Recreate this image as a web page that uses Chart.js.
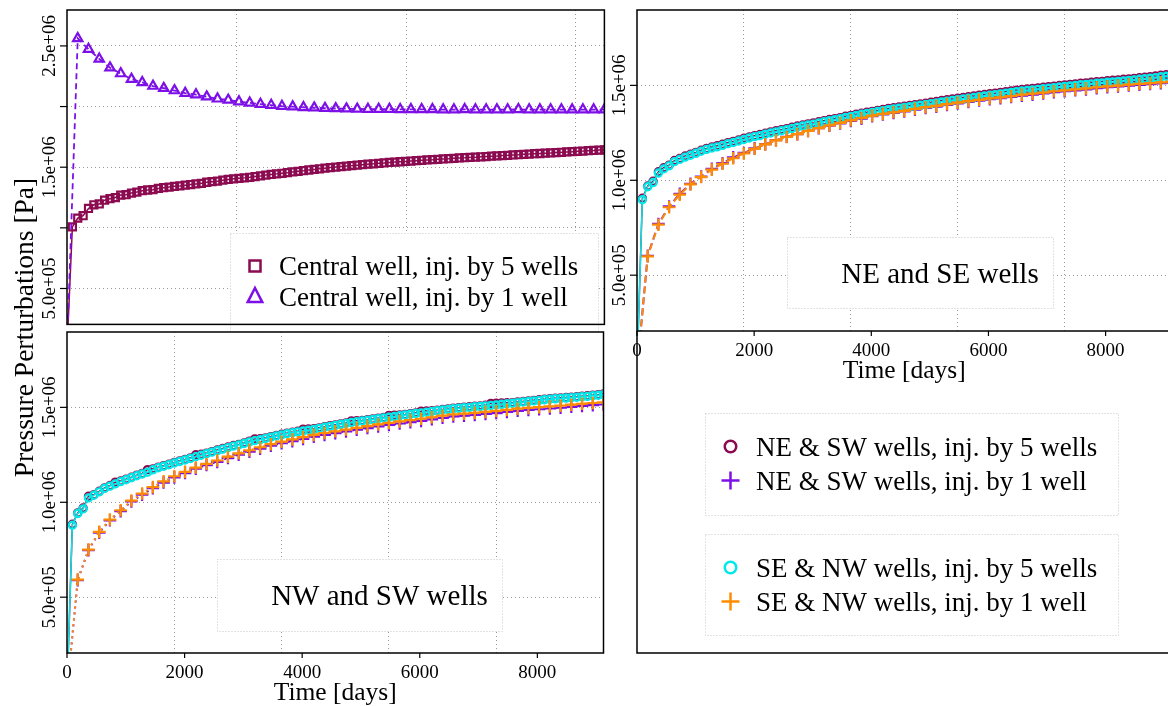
<!DOCTYPE html>
<html>
<head>
<meta charset="utf-8">
<title>Pressure perturbations</title>
<script src="https://cdn.jsdelivr.net/npm/chart.js@4.4.1/dist/chart.umd.min.js"></script>
<style>
  html, body { margin: 0; padding: 0; background: #fff; }
  body { width: 1168px; height: 706px; overflow: hidden; position: relative; }
  canvas { position: absolute; }
</style>
</head>
<body>
<canvas id="chartCentral" width="612" height="332" style="left:0;top:0"></canvas>
<canvas id="chartNwSw" width="612" height="706" style="left:0;top:0"></canvas>
<canvas id="chartNeSe" width="580" height="660" style="left:600px;top:0"></canvas>
<script>
// time in days, one output every quarter of a year
const daysQ = [
  0, 91.25, 182.5, 273.75, 365, 456.25, 547.5, 638.75, 730, 821.25, 912.5, 1003.75,
  1095, 1186.25, 1277.5, 1368.75, 1460, 1551.25, 1642.5, 1733.75, 1825, 1916.25, 2007.5, 2098.75,
  2190, 2281.25, 2372.5, 2463.75, 2555, 2646.25, 2737.5, 2828.75, 2920, 3011.25, 3102.5, 3193.75,
  3285, 3376.25, 3467.5, 3558.75, 3650, 3741.25, 3832.5, 3923.75, 4015, 4106.25, 4197.5, 4288.75,
  4380, 4471.25, 4562.5, 4653.75, 4745, 4836.25, 4927.5, 5018.75, 5110, 5201.25, 5292.5, 5383.75,
  5475, 5566.25, 5657.5, 5748.75, 5840, 5931.25, 6022.5, 6113.75, 6205, 6296.25, 6387.5, 6478.75,
  6570, 6661.25, 6752.5, 6843.75, 6935, 7026.25, 7117.5, 7208.75, 7300, 7391.25, 7482.5, 7573.75,
  7665, 7756.25, 7847.5, 7938.75, 8030, 8121.25, 8212.5, 8303.75, 8395, 8486.25, 8577.5, 8668.75,
  8760, 8851.25, 8942.5, 9033.75, 9125
];
// half-year outputs for the single-well runs
const daysH = daysQ.filter((d, i) => i % 2 === 0);

// pressure perturbation, in units of 1e6 Pa
const centralFive = [0,
  1.008, 1.080, 1.100, 1.160, 1.190, 1.197, 1.228, 1.240, 1.250, 1.270,
  1.273, 1.287, 1.295, 1.306, 1.312, 1.315, 1.325, 1.331, 1.336, 1.342,
  1.346, 1.352, 1.357, 1.362, 1.367, 1.376, 1.381, 1.385, 1.393, 1.399,
  1.404, 1.408, 1.412, 1.417, 1.423, 1.428, 1.435, 1.440, 1.445, 1.450,
  1.455, 1.461, 1.466, 1.471, 1.477, 1.482, 1.487, 1.492, 1.497, 1.501,
  1.505, 1.509, 1.513, 1.517, 1.521, 1.525, 1.528, 1.532, 1.535, 1.539,
  1.542, 1.545, 1.548, 1.551, 1.554, 1.557, 1.560, 1.562, 1.565, 1.568,
  1.570, 1.573, 1.576, 1.578, 1.581, 1.583, 1.586, 1.588, 1.591, 1.593,
  1.596, 1.598, 1.601, 1.603, 1.606, 1.608, 1.611, 1.613, 1.616, 1.618,
  1.621, 1.623, 1.626, 1.628, 1.631, 1.633, 1.636, 1.638, 1.641, 1.643];
const centralOne = [0,
  2.562, 2.473, 2.393, 2.320, 2.272, 2.226, 2.199, 2.169, 2.151, 2.132,
  2.110, 2.098, 2.081, 2.064, 2.054, 2.040, 2.030, 2.020, 2.011, 2.003,
  1.999, 1.993, 1.990, 1.986, 1.984, 1.982, 1.980, 1.979, 1.978, 1.978,
  1.977, 1.976, 1.977, 1.976, 1.975, 1.975, 1.976, 1.975, 1.975, 1.974,
  1.975, 1.976, 1.975, 1.974, 1.975, 1.975, 1.974, 1.975, 1.974, 1.974];

const neFive = [0,
  0.905, 0.970, 0.995, 1.045, 1.066, 1.080, 1.104, 1.115, 1.128, 1.137,
  1.147, 1.158, 1.168, 1.175, 1.182, 1.190, 1.198, 1.205, 1.212, 1.221,
  1.228, 1.235, 1.241, 1.248, 1.255, 1.261, 1.266, 1.272, 1.279, 1.286,
  1.291, 1.297, 1.302, 1.308, 1.314, 1.320, 1.325, 1.330, 1.337, 1.342,
  1.348, 1.353, 1.358, 1.363, 1.368, 1.373, 1.378, 1.382, 1.386, 1.390,
  1.394, 1.398, 1.402, 1.406, 1.411, 1.415, 1.420, 1.424, 1.428, 1.432,
  1.436, 1.440, 1.444, 1.448, 1.452, 1.456, 1.459, 1.463, 1.467, 1.471,
  1.475, 1.478, 1.481, 1.484, 1.487, 1.490, 1.493, 1.496, 1.499, 1.502,
  1.505, 1.508, 1.511, 1.513, 1.516, 1.519, 1.521, 1.524, 1.527, 1.529,
  1.532, 1.534, 1.537, 1.540, 1.543, 1.546, 1.549, 1.553, 1.556, 1.559];
const seFive = [0,
  0.898, 0.966, 0.988, 1.038, 1.060, 1.076, 1.098, 1.110, 1.122, 1.132,
  1.142, 1.153, 1.163, 1.170, 1.176, 1.184, 1.193, 1.199, 1.207, 1.215,
  1.223, 1.230, 1.235, 1.243, 1.249, 1.255, 1.261, 1.266, 1.273, 1.280,
  1.286, 1.291, 1.296, 1.302, 1.309, 1.314, 1.319, 1.324, 1.331, 1.336,
  1.342, 1.348, 1.352, 1.357, 1.362, 1.367, 1.372, 1.376, 1.380, 1.384,
  1.387, 1.391, 1.395, 1.399, 1.404, 1.408, 1.413, 1.417, 1.421, 1.425,
  1.429, 1.432, 1.436, 1.440, 1.444, 1.448, 1.451, 1.455, 1.459, 1.463,
  1.467, 1.470, 1.473, 1.476, 1.479, 1.482, 1.485, 1.488, 1.491, 1.494,
  1.497, 1.500, 1.503, 1.505, 1.508, 1.511, 1.513, 1.516, 1.518, 1.521,
  1.523, 1.526, 1.529, 1.532, 1.535, 1.538, 1.541, 1.545, 1.548, 1.551];
const neOne = [0,
  0.602, 0.770, 0.862, 0.929, 0.981, 1.020, 1.060, 1.090, 1.121, 1.144,
  1.168, 1.190, 1.211, 1.229, 1.243, 1.260, 1.274, 1.288, 1.300, 1.313,
  1.325, 1.338, 1.347, 1.355, 1.363, 1.372, 1.381, 1.388, 1.397, 1.405,
  1.413, 1.420, 1.427, 1.433, 1.439, 1.446, 1.451, 1.457, 1.464, 1.469,
  1.474, 1.479, 1.485, 1.490, 1.494, 1.499, 1.503, 1.507, 1.511, 1.515];
const seOne = [0,
  0.599, 0.766, 0.858, 0.924, 0.978, 1.017, 1.056, 1.087, 1.116, 1.141,
  1.166, 1.189, 1.210, 1.228, 1.243, 1.260, 1.275, 1.289, 1.302, 1.316,
  1.328, 1.341, 1.350, 1.358, 1.366, 1.376, 1.385, 1.392, 1.401, 1.409,
  1.417, 1.424, 1.431, 1.437, 1.443, 1.451, 1.456, 1.462, 1.469, 1.474,
  1.479, 1.484, 1.490, 1.495, 1.499, 1.504, 1.508, 1.512, 1.516, 1.520];

const swFive = [0,
  0.884, 0.944, 0.970, 1.032, 1.040, 1.058, 1.076, 1.088, 1.106, 1.112,
  1.122, 1.132, 1.143, 1.152, 1.172, 1.176, 1.185, 1.193, 1.201, 1.210,
  1.218, 1.226, 1.234, 1.250, 1.253, 1.259, 1.267, 1.275, 1.283, 1.291,
  1.299, 1.305, 1.313, 1.322, 1.334, 1.335, 1.339, 1.346, 1.352, 1.358,
  1.364, 1.369, 1.374, 1.385, 1.386, 1.387, 1.392, 1.398, 1.403, 1.408,
  1.413, 1.418, 1.429, 1.430, 1.431, 1.435, 1.439, 1.443, 1.447, 1.458,
  1.459, 1.460, 1.463, 1.467, 1.471, 1.480, 1.481, 1.482, 1.485, 1.489,
  1.492, 1.496, 1.498, 1.501, 1.503, 1.506, 1.508, 1.511, 1.521, 1.522,
  1.523, 1.524, 1.525, 1.528, 1.531, 1.534, 1.537, 1.540, 1.543, 1.546,
  1.548, 1.550, 1.552, 1.554, 1.556, 1.559, 1.561, 1.564, 1.567, 1.570];
const nwFive = [0,
  0.879, 0.941, 0.965, 1.023, 1.037, 1.055, 1.073, 1.085, 1.097, 1.109,
  1.119, 1.129, 1.140, 1.149, 1.158, 1.171, 1.182, 1.190, 1.198, 1.207,
  1.215, 1.223, 1.231, 1.240, 1.248, 1.256, 1.264, 1.272, 1.280, 1.288,
  1.296, 1.302, 1.310, 1.318, 1.325, 1.330, 1.336, 1.343, 1.349, 1.355,
  1.361, 1.366, 1.371, 1.376, 1.380, 1.384, 1.389, 1.395, 1.400, 1.405,
  1.410, 1.415, 1.420, 1.424, 1.428, 1.432, 1.436, 1.440, 1.444, 1.448,
  1.452, 1.456, 1.460, 1.464, 1.468, 1.471, 1.475, 1.479, 1.482, 1.486,
  1.489, 1.493, 1.495, 1.498, 1.500, 1.503, 1.505, 1.508, 1.510, 1.513,
  1.516, 1.519, 1.522, 1.525, 1.528, 1.531, 1.534, 1.537, 1.540, 1.543,
  1.545, 1.547, 1.549, 1.551, 1.553, 1.556, 1.558, 1.561, 1.564, 1.567];
const swOne = [0,
  0.590, 0.748, 0.840, 0.905, 0.953, 1.004, 1.040, 1.074, 1.104, 1.131,
  1.154, 1.177, 1.196, 1.213, 1.233, 1.251, 1.267, 1.282, 1.298, 1.311,
  1.322, 1.334, 1.346, 1.355, 1.364, 1.373, 1.382, 1.391, 1.400, 1.407,
  1.415, 1.422, 1.429, 1.437, 1.445, 1.452, 1.456, 1.460, 1.465, 1.470,
  1.476, 1.482, 1.486, 1.490, 1.494, 1.498, 1.503, 1.508, 1.512, 1.515];
const nwOne = [0,
  0.593, 0.751, 0.844, 0.909, 0.958, 1.009, 1.046, 1.080, 1.110, 1.137,
  1.160, 1.183, 1.202, 1.220, 1.240, 1.258, 1.274, 1.290, 1.306, 1.319,
  1.331, 1.343, 1.355, 1.365, 1.374, 1.383, 1.392, 1.401, 1.410, 1.418,
  1.426, 1.433, 1.440, 1.448, 1.456, 1.463, 1.467, 1.471, 1.476, 1.481,
  1.487, 1.493, 1.497, 1.501, 1.505, 1.509, 1.514, 1.519, 1.523, 1.526];

// axes
const xTickDays = [0, 2000, 4000, 6000, 8000];
const xGridCentral = [2880, 5760, 8640];
const xGridWells = [1825, 3650, 5475, 7300];
const yGridCentral = [0.5, 1.0, 1.5, 2.0, 2.5];
const yGridWells = [0.5, 1.0, 1.5];
const yLabelValsCentral = [0.5, 1.5, 2.5];
const yLabelsCentral = ['5.0e+05', '1.5e+06', '2.5e+06'];
const yLabelValsWells = [0.5, 1.0, 1.5];
const yLabelsWells = ['5.0e+05', '1.0e+06', '1.5e+06'];

const names = {
  central5: 'Central well, inj. by 5 wells',
  central1: 'Central well, inj. by 1 well',
  neSw5: 'NE & SW wells, inj. by 5 wells',
  neSw1: 'NE & SW wells, inj. by 1 well',
  seNw5: 'SE & NW wells, inj. by 5 wells',
  seNw1: 'SE & NW wells, inj. by 1 well'
};

const MAROON = '#8b0a50', PURPLE = '#7d10e6', CYAN = '#00e8e8', ORANGE = '#ff8c00';
const GRID = '#9a9a9a';
const FONT = '"Liberation Serif", "Times New Roman", serif';

function series(label, days, vals, color, shape, r, dash, lw, order) {
  return {
    label: label,
    order: order,
    data: vals.map((v, i) => ({ x: days[i], y: v })),
    borderColor: color,
    backgroundColor: color,
    borderWidth: lw,
    borderDash: dash,
    tension: 0,
    fill: false,
    pointStyle: shape,
    pointRadius: c => (c.dataIndex === 0 ? 0 : r),
    pointBorderWidth: 2.2,
    pointBorderColor: color,
    pointBackgroundColor: 'rgba(0,0,0,0)'
  };
}

function drawMarker(ctx, shape, x, y, size, color) {
  ctx.save();
  ctx.strokeStyle = color;
  ctx.lineWidth = 2.5;
  ctx.setLineDash([]);
  ctx.beginPath();
  if (shape === 'rect') {
    ctx.rect(x - size / 2, y - size / 2, size, size);
  } else if (shape === 'triangle') {
    ctx.moveTo(x, y - size * 0.55);
    ctx.lineTo(x + size / 2, y + size * 0.42);
    ctx.lineTo(x - size / 2, y + size * 0.42);
    ctx.closePath();
  } else if (shape === 'circle') {
    ctx.arc(x, y, size / 2, 0, Math.PI * 2);
  } else {
    ctx.moveTo(x - size / 2, y); ctx.lineTo(x + size / 2, y);
    ctx.moveTo(x, y - size / 2); ctx.lineTo(x, y + size / 2);
  }
  ctx.stroke();
  ctx.restore();
}

// frame, ticks, labels, boxed notes and legends
const decor = {
  id: 'decor',
  afterDraw(chart, args, o) {
    const ctx = chart.ctx, a = chart.chartArea;
    const sx = chart.scales.x, sy = chart.scales.y;
    ctx.save();
    ctx.setLineDash([]);

    (o.boxes || []).forEach(b => {
      ctx.fillStyle = '#fff';
      ctx.fillRect(b.x1, b.y1, b.x2 - b.x1, b.y2 - b.y1);
      ctx.save();
      ctx.strokeStyle = '#c4c4c4';
      ctx.lineWidth = 1;
      ctx.setLineDash([1, 2]);
      ctx.strokeRect(b.x1 + 0.5, b.y1 + 0.5, b.x2 - b.x1, b.y2 - b.y1);
      ctx.restore();
      if (b.text) {
        ctx.fillStyle = '#000';
        ctx.font = '29px ' + FONT;
        ctx.textAlign = 'center';
        ctx.fillText(b.text, b.tx, b.ty);
      }
    });

    ctx.font = '27px ' + FONT;
    ctx.textAlign = 'left';
    (o.legend || []).forEach(e => {
      const ds = chart.data.datasets[e.ds];
      drawMarker(ctx, ds.pointStyle, e.mx, e.my, e.size, ds.borderColor);
      ctx.fillStyle = '#000';
      ctx.fillText(ds.label, e.tx, e.ty);
    });

    ctx.fillStyle = '#000';
    ctx.strokeStyle = '#000';
    ctx.lineWidth = 1.2;
    o.yMarks.forEach(v => {
      const p = sy.getPixelForValue(v);
      ctx.beginPath(); ctx.moveTo(a.left - 7, p); ctx.lineTo(a.left, p); ctx.stroke();
    });
    ctx.font = '19px ' + FONT;
    o.yLabels.forEach((t, i) => {
      const p = sy.getPixelForValue(o.yLabelVals[i]);
      ctx.save();
      ctx.translate(a.left - 12.5, p);
      ctx.rotate(-Math.PI / 2);
      ctx.textAlign = 'center';
      ctx.fillText(t, 0, 0);
      ctx.restore();
    });

    if (o.xTicks) {
      ctx.textAlign = 'center';
      o.xTicks.forEach(v => {
        const p = sx.getPixelForValue(v);
        ctx.beginPath(); ctx.moveTo(p, a.bottom); ctx.lineTo(p, a.bottom + 5); ctx.stroke();
        ctx.fillText(String(v), p, a.bottom + 25);
      });
      ctx.font = '25.5px ' + FONT;
      ctx.fillText(o.xTitle, (a.left + a.right) / 2, a.bottom + 47);
    }

    if (o.yTitle) {
      ctx.save();
      ctx.translate(o.yTitle.x, o.yTitle.y);
      ctx.rotate(-Math.PI / 2);
      ctx.font = '27.5px ' + FONT;
      ctx.textAlign = 'center';
      ctx.fillText(o.yTitle.text, 0, 0);
      ctx.restore();
    }

    ctx.lineWidth = 1.5;
    ctx.strokeRect(a.left, a.top, a.right - a.left, a.bottom - a.top);
    if (o.lowerFrame) {
      ctx.beginPath();
      ctx.moveTo(a.left, a.bottom);
      ctx.lineTo(a.left, o.lowerFrame.bottom);
      ctx.lineTo(o.lowerFrame.right, o.lowerFrame.bottom);
      ctx.stroke();
    }
    ctx.restore();
  }
};

function panel(id, datasets, yMin, yMax, xGrid, yGrid, padding, decorOpts) {
  return new Chart(document.getElementById(id), {
    type: 'line',
    data: { datasets: datasets },
    options: {
      responsive: false,
      animation: false,
      events: [],
      layout: { padding: padding },
      scales: {
        x: {
          type: 'linear', min: 0, max: 9125,
          afterBuildTicks: s => { s.ticks = xGrid.map(v => ({ value: v })); },
          afterFit: s => { s.height = 0; },
          ticks: { display: false },
          grid: { color: GRID, lineWidth: 1, drawTicks: false },
          border: { display: false, dash: [1, 3] }
        },
        y: {
          type: 'linear', min: yMin, max: yMax,
          afterBuildTicks: s => { s.ticks = yGrid.map(v => ({ value: v })); },
          afterFit: s => { s.width = 0; },
          ticks: { display: false },
          grid: { color: GRID, lineWidth: 1, drawTicks: false },
          border: { display: false, dash: [1, 3] }
        }
      },
      plugins: {
        legend: { display: false },
        tooltip: { enabled: false },
        decor: decorOpts
      }
    },
    plugins: [decor]
  });
}

// top left: central well
panel('chartCentral', [
  series(names.central5, daysQ, centralFive, MAROON, 'rect', 5, [], 1.5, 2),
  series(names.central1, daysH, centralOne, PURPLE, 'triangle', 5.4, [6, 4], 1.8, 1)
], 0.204, 2.796, xGridCentral, yGridCentral,
{ left: 67, right: 6, top: 10, bottom: 1 },
{
  yMarks: yGridCentral, yLabelVals: yLabelValsCentral, yLabels: yLabelsCentral,
  boxes: [{ x1: 230, y1: 233, x2: 598, y2: 331 }],
  legend: [
    { ds: 0, mx: 255, my: 266, size: 11, tx: 279, ty: 275 },
    { ds: 1, mx: 255, my: 296, size: 14.5, tx: 279, ty: 306 }
  ]
});

// bottom left: NW and SW wells
panel('chartNwSw', [
  series(names.neSw5, daysQ, swFive, MAROON, 'circle', 3.6, [], 1.5, 4),
  series(names.neSw1, daysH, swOne, PURPLE, 'cross', 6.3, [2, 4], 2, 3),
  series(names.seNw5, daysQ, nwFive, CYAN, 'circle', 3.6, [], 1.5, 2),
  series(names.seNw1, daysH, nwOne, ORANGE, 'cross', 6.3, [2, 4], 2, 1)
], 0.206, 1.897, xGridWells, yGridWells,
{ left: 67, right: 6, top: 332, bottom: 53 },
{
  yMarks: yGridWells, yLabelVals: yLabelValsWells, yLabels: yLabelsWells,
  xTicks: xTickDays, xTitle: 'Time [days]',
  yTitle: { x: 33, y: 327.5, text: 'Pressure Perturbations [Pa]' },
  boxes: [{ x1: 217, y1: 559, x2: 502, y2: 631, text: 'NW and SW wells', tx: 379.5, ty: 605 }]
});

// top right: NE and SE wells, plus the shared legend below it
panel('chartNeSe', [
  series(names.neSw5, daysQ, neFive, MAROON, 'circle', 3.6, [], 1.5, 4),
  series(names.neSw1, daysH, neOne, PURPLE, 'cross', 6.3, [7, 4], 2, 3),
  series(names.seNw5, daysQ, seFive, CYAN, 'circle', 3.6, [], 1.5, 2),
  series(names.seNw1, daysH, seOne, ORANGE, 'cross', 6.3, [7, 4], 2, 1)
], 0.206, 1.897, xGridWells, yGridWells,
{ left: 37, right: 3, top: 10, bottom: 329 },
{
  yMarks: yGridWells, yLabelVals: yLabelValsWells, yLabels: yLabelsWells,
  xTicks: xTickDays, xTitle: 'Time [days]',
  lowerFrame: { bottom: 653, right: 580 },
  boxes: [
    { x1: 187, y1: 237, x2: 453, y2: 308, text: 'NE and SE wells', tx: 340, ty: 283 },
    { x1: 105, y1: 413, x2: 518, y2: 515 },
    { x1: 105, y1: 534, x2: 518, y2: 635 }
  ],
  legend: [
    { ds: 0, mx: 130.5, my: 446.5, size: 11.5, tx: 156, ty: 456 },
    { ds: 1, mx: 130.5, my: 480.5, size: 18, tx: 156, ty: 490 },
    { ds: 2, mx: 130.5, my: 567.5, size: 11.5, tx: 156, ty: 577 },
    { ds: 3, mx: 130.5, my: 601.5, size: 18, tx: 156, ty: 611 }
  ]
});
</script>
</body>
</html>
